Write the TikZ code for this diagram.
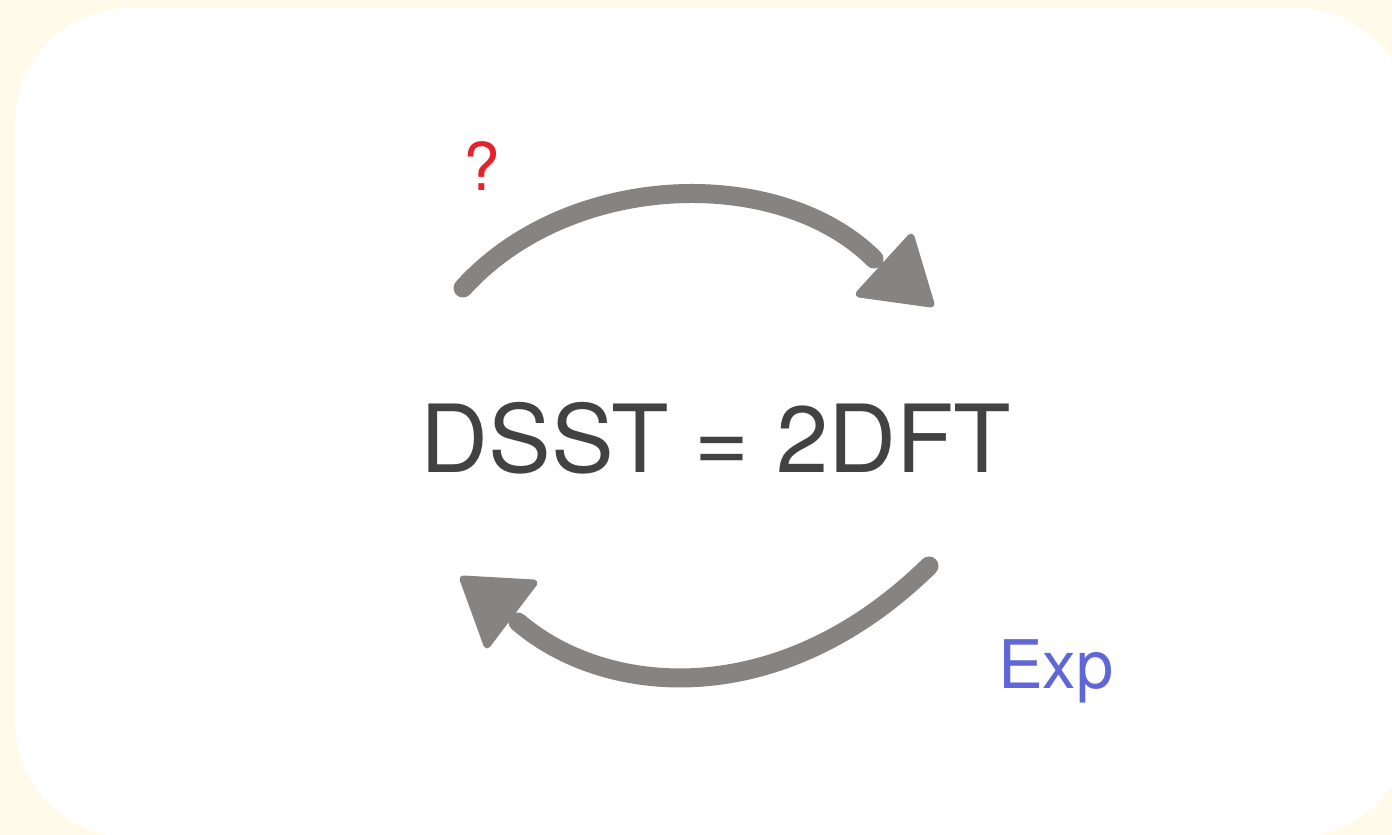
\documentclass[tikz,border=0pt]{standalone}
\usepackage{fontspec}
\setmainfont{TeX Gyre Heros}
\definecolor{bgcream}{HTML}{FFFAEA}
\definecolor{chalk}{HTML}{878380}
\definecolor{maintext}{HTML}{424242}
\definecolor{qred}{HTML}{E5222B}
\definecolor{expblue}{HTML}{5F67D6}
\tikzset{
  chalkline/.style={draw=chalk, line width=19pt, line cap=round},
  chalkhead/.style={fill=chalk, draw=chalk, line width=7pt, line join=round},
  lbl/.style={inner sep=0pt, outer sep=0pt, anchor=base west},
}
\begin{document}
\begin{tikzpicture}[x=1pt, y=-1pt]
  \useasboundingbox (0,0) rectangle (1392,835);
  \fill[bgcream] (0,0) rectangle (1392,835);
  \fill[white, rounded corners=115pt] (15,8) rectangle (1411,837);

  % main formula
  \node[inner sep=0pt, anchor=base, text=maintext, font=\fontsize{94}{110}\selectfont] (eq) at (716,472) {DSST = 2DFT};

  % labels
  \node[lbl, text=qred, font=\fontsize{66}{78}\selectfont] (q) at (463,190) {?};
  \node[lbl, text=expblue, font=\fontsize{67}{80}\selectfont] (exp) at (998,688) {Exp};

  % top arrow
  \coordinate (ts) at (463,288);
  \coordinate (te) at (874,259);
  \draw[chalkline] (ts) .. controls (570,170) and (780,165) .. (te);
  \filldraw[chalkhead] (911,237) -- (859,294) -- (931,304) -- cycle;

  % bottom arrow
  \coordinate (bs) at (929,566);
  \coordinate (be) at (518,622);
  \draw[chalkline] (bs) .. controls (779,713) and (605,697) .. (be);
  \filldraw[chalkhead] (463,579) -- (534,583) -- (487,645) -- cycle;
\end{tikzpicture}
\end{document}
